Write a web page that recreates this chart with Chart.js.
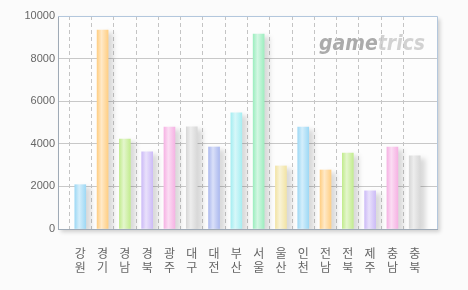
<!DOCTYPE html>
<html><head><meta charset="utf-8">
<script src="https://cdn.jsdelivr.net/npm/chart.js@4.4.1/dist/chart.umd.min.js"></script>
<style>html,body{margin:0;padding:0;background:#fbfbfb;}#wrap{width:468px;height:290px;}</style>
</head><body><div id="wrap"><canvas id="c" width="468" height="290"></canvas></div>
<script>
const categories = ['강원','경기','경남','경북','광주','대구','대전','부산','서울','울산','인천','전남','전북','제주','충남','충북'];
const values = [2080,9340,4220,3620,4790,4800,3850,5450,9150,2960,4790,2770,3570,1790,3850,3430];
const yTicks = [0,2000,4000,6000,8000,10000];
const palette = ['#9fd9f5','#ffcf85','#c3ec90','#cdbcf7','#f6b3e4','#d8d8d8','#adbaef','#a6eef2','#9eeec0','#f2e4a6'];

const labels = [''].concat(categories).concat(['']);
const data = [null].concat(values).concat([null]);

function lighten(hex, t){
  const n = parseInt(hex.slice(1),16);
  let r=(n>>16)&255,g=(n>>8)&255,b=n&255;
  r=Math.round(r+(255-r)*t);g=Math.round(g+(255-g)*t);b=Math.round(b+(255-b)*t);
  return 'rgb('+r+','+g+','+b+')';
}

const bgPlugin = {
  id:'bg',
  beforeDraw(chart){
    const {ctx, chartArea:a} = chart;
    ctx.save();
    ctx.shadowColor='rgba(0,0,0,0.18)';
    ctx.shadowBlur=4; ctx.shadowOffsetX=3; ctx.shadowOffsetY=3;
    ctx.fillStyle='#fdfdfd';
    ctx.fillRect(a.left,a.top,a.right-a.left,a.bottom-a.top);
    ctx.restore();
    // watermark
    ctx.save();
    ctx.font='italic bold 21px "DejaVu Sans Condensed", "DejaVu Sans", sans-serif';
    ctx.textBaseline='alphabetic';
    ctx.fillStyle='#ababab';
    ctx.fillText('game',319,50);
    const w=ctx.measureText('game').width;
    ctx.fillStyle='#d2d2d2';
    ctx.fillText('trics',319+w,50);
    ctx.restore();
  },
  beforeDatasetsDraw(chart){
    const ctx=chart.ctx;
    ctx.save();
    ctx.shadowColor='rgba(0,0,0,0.14)';
    ctx.shadowBlur=5; ctx.shadowOffsetX=5; ctx.shadowOffsetY=3;
  },
  afterDatasetsDraw(chart){
    chart.ctx.restore();
  },
  afterDraw(chart){
    const {ctx, chartArea:a} = chart;
    ctx.save();
    ctx.strokeStyle='#b3c7dd'; ctx.lineWidth=1;
    ctx.beginPath();
    ctx.moveTo(a.left,a.top+0.5); ctx.lineTo(a.right+0.5,a.top+0.5);
    ctx.lineTo(a.right+0.5,a.bottom);
    ctx.stroke();
    ctx.restore();
  }
};

new Chart(document.getElementById('c'),{
  type:'bar',
  data:{labels:labels,datasets:[{
    data:data,
    barThickness:11,
    backgroundColor(ctx){
      const chart=ctx.chart;
      const i=ctx.dataIndex;
      const base=palette[(i-1+palette.length)%palette.length];
      if(!chart.chartArea||!chart.scales.x) return base;
      const x=chart.scales.x.getPixelForValue(i);
      const g=chart.ctx.createLinearGradient(x-5.5,0,x+5.5,0);
      g.addColorStop(0,base);
      g.addColorStop(0.4,lighten(base,0.55));
      g.addColorStop(1,base);
      return g;
    },
    borderWidth:0
  }]},
  options:{
    responsive:false,animation:false,
    layout:{padding:{top:16,right:31,left:0,bottom:0}},
    plugins:{legend:{display:false},tooltip:{enabled:false}},
    scales:{
      x:{
        offset:false,
        afterFit(s){s.height=61;},
        grid:{
          color(c){return (c.index===0||c.index===labels.length-1)?'rgba(0,0,0,0)':'#c4c4c4';},
          drawTicks:false
        },
        border:{color:'#9faab6',width:1,dash:[4,3]},
        ticks:{
          padding:18,maxRotation:0,autoSkip:false,color:'#666',
          font:{family:'"Noto Sans CJK KR", sans-serif',size:12,lineHeight:1.15},
          callback(v,i){const l=labels[i];return l?l.split(''):'';}
        }
      },
      y:{
        min:0,max:10000,
        afterFit(s){s.width=58;},
        afterBuildTicks(s){s.ticks=yTicks.map(v=>({value:v}));},
        grid:{color:'#c8c8c8',drawTicks:false},
        border:{color:'#9faab6',width:1},
        ticks:{padding:3,color:'#666',font:{family:'"Liberation Sans", Arial, sans-serif',size:11},
          callback(v){return String(v);}}
      }
    }
  },
  plugins:[bgPlugin]
});
</script>
</body></html>
